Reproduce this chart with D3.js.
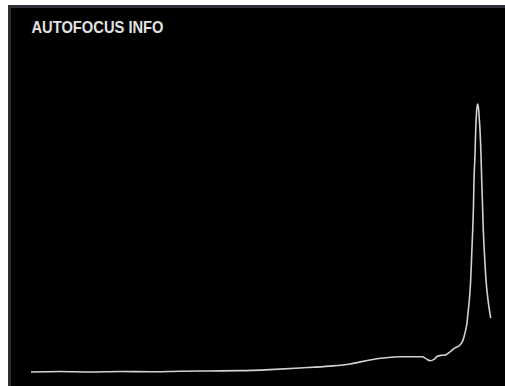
<!DOCTYPE html>
<html>
<head>
<meta charset="utf-8">
<script src="https://cdn.jsdelivr.net/npm/d3@7"></script>
<style>
  html, body { margin: 0; padding: 0; background: #ffffff; }
  svg { display: block; }
</style>
</head>
<body>
<svg id="chart" width="505" height="386"></svg>
<script>
// Focus sweep: lens position (steps) and measured sharpness score (0-100)
const focusPos = [0, 29, 59, 89, 119, 149, 179, 209, 239, 269, 299, 319, 339, 352, 369, 391, 395, 399, 403, 406, 410, 414, 419, 424, 429, 432, 434, 436, 437, 438.5, 439.7, 440.7, 441.7, 442.5, 443, 444, 444.7, 445.5, 446.5, 447.5, 448.2, 449, 450, 450.7, 451.5, 452.3, 453.5, 455, 457, 459.7];
const sharpness = [0, 0.2, 0, 0.2, 0.1, 0.3, 0.4, 0.5, 0.9, 1.5, 2.2, 3.0, 4.5, 5.2, 5.7, 5.7, 5.0, 4.2, 4.7, 5.8, 6.2, 6.3, 7.5, 9.0, 10.1, 11.9, 14.6, 18.3, 22, 27.6, 34.3, 43.7, 53, 62.3, 71.6, 81, 90.3, 96.6, 100, 98.5, 94.8, 90.3, 81, 71.6, 62.3, 53, 43.7, 34.3, 26.9, 20.1];
const title = "AUTOFOCUS INFO";

const W = 505, H = 386;
const svg = d3.select("#chart");

// Panel: dark grey frame on top/left, black plot area
svg.append("rect").attr("x", 8).attr("y", 5).attr("width", W - 8).attr("height", H - 5).attr("fill", "#2d2f36");
svg.append("rect").attr("x", 11).attr("y", 8).attr("width", W - 11).attr("height", H - 8).attr("fill", "#000000");

// Condensed bold heading
svg.append("text")
  .attr("x", 31.5).attr("y", 33)
  .attr("fill", "#e2e2e4")
  .attr("font-family", "'Liberation Sans', Arial, sans-serif")
  .attr("font-weight", "bold")
  .attr("font-size", 16.5)
  .attr("textLength", 132)
  .attr("lengthAdjust", "spacingAndGlyphs")
  .text(title);

const x = d3.scaleLinear().domain([0, 460]).range([31, 491]);
const y = d3.scaleLinear().domain([0, 100]).range([372, 104]);

const line = d3.line()
  .x((d, i) => x(focusPos[i]))
  .y(d => y(d))
  .curve(d3.curveMonotoneX);

svg.append("path")
  .datum(sharpness)
  .attr("d", line)
  .attr("fill", "none")
  .attr("stroke", "#d2d2d2")
  .attr("stroke-width", 1.6)
  .attr("stroke-linejoin", "round");
</script>
</body>
</html>
